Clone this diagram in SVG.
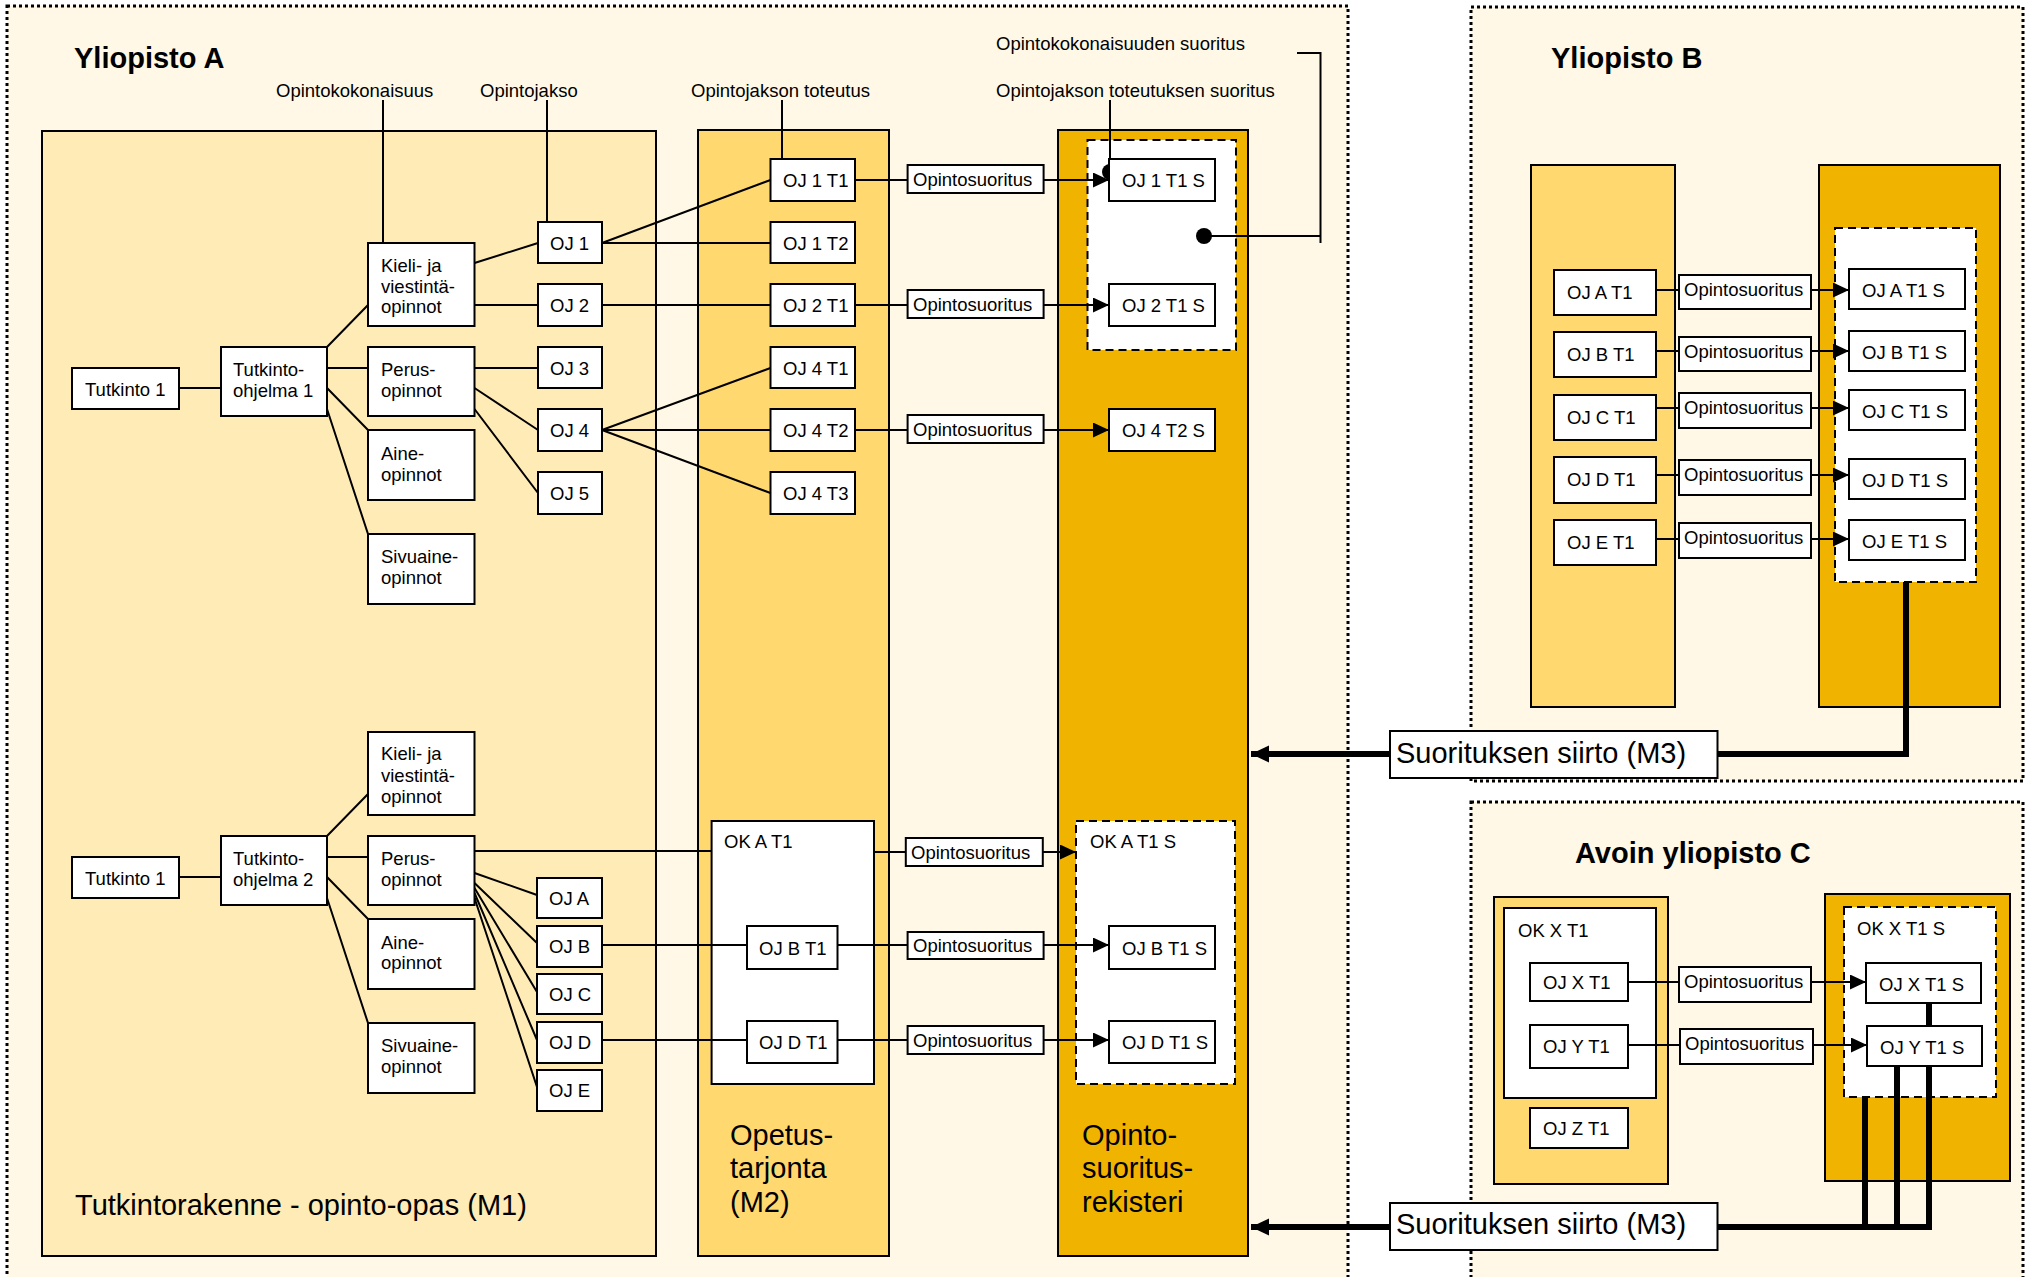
<svg xmlns="http://www.w3.org/2000/svg" width="2033" height="1277" viewBox="0 0 2033 1277">
<style>
.cont{fill:#FFF8E6;stroke:#000;stroke-width:3;stroke-dasharray:3 3}
.m1{fill:#FFEBB5;stroke:#000;stroke-width:2}
.m2{fill:#FFD86F;stroke:#000;stroke-width:2}
.reg{fill:#F0B400;stroke:#000;stroke-width:2}
.box{fill:#fff;stroke:#000;stroke-width:2}
.dash{fill:#fff;stroke:#000;stroke-width:2;stroke-dasharray:8 5}
.ln{stroke:#000;stroke-width:2;fill:none}
.arr{stroke:#000;stroke-width:2;fill:none;marker-end:url(#ah)}
.thick{stroke:#000;stroke-width:6;fill:none}
.tarr{stroke:#000;stroke-width:6;fill:none;marker-end:url(#bh)}
text{font-family:"Liberation Sans",Arial,sans-serif;font-size:18.5px;fill:#000}
.h{font-size:29px;font-weight:bold}
.big{font-size:29px}
</style>
<defs>
<marker id="ah" markerUnits="userSpaceOnUse" markerWidth="17" markerHeight="16" refX="16" refY="7.5" orient="auto"><path d="M0,0 L16,7.5 L0,15 z" fill="#000"/></marker>
<marker id="bh" markerUnits="userSpaceOnUse" markerWidth="19" markerHeight="18" refX="18" refY="8.5" orient="auto"><path d="M0,0 L18,8.5 L0,17 z" fill="#000"/></marker>
</defs>
<rect width="2033" height="1277" fill="#fff"/>

<g id="yliopistoA">
<rect class="cont" x="7" y="6" width="1341" height="1285"/>
<text class="h" x="74" y="68">Yliopisto A</text>
</g>
<g id="yliopistoB">
<rect class="cont" x="1471" y="7" width="552" height="774"/>
<text class="h" x="1551" y="68">Yliopisto B</text>
</g>
<g id="yliopistoC">
<rect class="cont" x="1471" y="802" width="552" height="490"/>
<text class="h" x="1575" y="863">Avoin yliopisto C</text>
</g>

<g id="M1">
<rect class="m1" x="42" y="131" width="614" height="1125"/>
<text class="big" x="75" y="1215">Tutkintorakenne - opinto-opas (M1)</text>
</g>
<g id="M2">
<rect class="m2" x="698" y="130" width="191" height="1126"/>
<text class="big" x="730" y="1145">Opetus-</text>
<text class="big" x="730" y="1178">tarjonta</text>
<text class="big" x="730" y="1212">(M2)</text>
</g>
<g id="rekisteriA">
<rect class="reg" x="1058" y="130" width="190" height="1126"/>
<text class="big" x="1082" y="1145">Opinto-</text>
<text class="big" x="1082" y="1178">suoritus-</text>
<text class="big" x="1082" y="1212">rekisteri</text>
</g>
<g id="OK1S"><rect class="dash" x="1087.5" y="140" width="148.5" height="210"/></g>
<g id="OKAT1"><rect class="box" x="711.6" y="821" width="162.4" height="263"/><text x="724" y="848">OK A T1</text></g>
<g id="OKAT1S"><rect class="dash" x="1076" y="821" width="159" height="263"/><text x="1090" y="848">OK A T1 S</text></g>

<g id="M2B"><rect class="m2" x="1531" y="165" width="144" height="542"/></g>
<g id="rekisteriB"><rect class="reg" x="1819" y="165" width="181" height="542"/></g>
<g id="OKBS"><rect class="dash" x="1835" y="228" width="141" height="354"/></g>

<g id="M2C"><rect class="m2" x="1494" y="897" width="174" height="287"/></g>
<g id="OKXT1"><rect class="box" x="1504" y="908" width="152" height="190"/><text x="1518" y="937">OK X T1</text></g>
<g id="rekisteriC"><rect class="reg" x="1825" y="894" width="185" height="287"/></g>
<g id="OKXT1S"><rect class="dash" x="1844" y="907" width="152" height="190"/><text x="1857" y="935">OK X T1 S</text></g>

<g id="labels">
<text x="276" y="97">Opintokokonaisuus</text>
<text x="480" y="97">Opintojakso</text>
<text x="691" y="97">Opintojakson toteutus</text>
<text x="996" y="50">Opintokokonaisuuden suoritus</text>
<text x="996" y="97">Opintojakson toteutuksen suoritus</text>
</g>

<g id="connectors">
<path class="ln" d="M383,100V255 M547,100V230 M782,100V172 M1110,100V172 M1297,53H1320.5V243 M1320.5,236H1204"/>
<circle cx="383" cy="255" r="8"/><circle cx="547" cy="230" r="8"/><circle cx="782" cy="172" r="8"/><circle cx="1110" cy="172" r="8"/><circle cx="1204" cy="236" r="8"/>
<path class="ln" d="M178.6,388H221 M327,347L368,305 M327,368H368 M327,388L368,430 M327,409L368,534
M474.5,263L538,243 M474.5,305H538 M474.5,368H538 M474.5,388L538,430 M474.5,409L538,493
M602,243L770.5,180 M602,243H770.5 M602,305H770.5 M602,430L770.5,368 M602,430H770.5 M602,430L770.5,493
M855,180H907.6 M855,305H907.6 M855,430H907.6"/>
<path class="arr" d="M1043.6,180H1109"/>
<path class="arr" d="M1043.6,305H1109"/>
<path class="arr" d="M1043.6,430H1109"/>
<path class="ln" d="M178.6,877H221 M327,836L368,794 M327,857H368 M327,877L368,919 M327,898L368,1023
M474.5,851H711.6 M474.5,873L537,895 M474.5,883L537,943 M474.5,888L537,992 M474.5,893L537,1040 M474.5,898L537,1087
M602,945H747 M602,1040H747 M837.5,945H907.6 M837.5,1040H907.6 M874,852H905.8"/>
<path class="arr" d="M1043.6,945H1109"/>
<path class="arr" d="M1043.6,1040H1109"/>
<path class="arr" d="M1042.8,852H1076"/>
<path class="ln" d="M1656,290H1679 M1656,351H1679 M1656,408H1679 M1656,475H1679 M1656,539H1679"/>
<path class="arr" d="M1811,290H1849"/>
<path class="arr" d="M1811,351H1849"/>
<path class="arr" d="M1811,408H1849"/>
<path class="arr" d="M1811,475H1849"/>
<path class="arr" d="M1811,539H1849"/>
<path class="ln" d="M1628,982H1679 M1628,1045H1680"/>
<path class="arr" d="M1811,982H1866"/>
<path class="arr" d="M1813,1045H1867"/>
<path class="thick" d="M1717.5,754H1906V582"/>
<path class="tarr" d="M1390,754H1251"/>
<path class="thick" d="M1717.5,1227H1932 M1865,1098V1227 M1897,1067V1227 M1929,1003V1227"/>
<path class="tarr" d="M1390,1227H1251"/>
</g>

<g id="tutkinto1"><rect class="box" x="72" y="368" width="107" height="41"/><text x="85" y="396">Tutkinto 1</text></g>
<g id="to1"><rect class="box" x="221" y="347" width="106" height="69"/><text x="233" y="376">Tutkinto-</text><text x="233" y="397">ohjelma 1</text></g>
<g id="kieli1"><rect class="box" x="368" y="243" width="106.5" height="83"/><text x="381" y="272">Kieli- ja</text><text x="381" y="293">viestintä-</text><text x="381" y="313">opinnot</text></g>
<g id="perus1"><rect class="box" x="368" y="347" width="106.5" height="69"/><text x="381" y="376">Perus-</text><text x="381" y="397">opinnot</text></g>
<g id="aine1"><rect class="box" x="368" y="430" width="106.5" height="70"/><text x="381" y="460">Aine-</text><text x="381" y="481">opinnot</text></g>
<g id="sivu1"><rect class="box" x="368" y="534" width="106.5" height="70"/><text x="381" y="563">Sivuaine-</text><text x="381" y="584">opinnot</text></g>
<g id="oj1"><rect class="box" x="538" y="222" width="64" height="41"/><text x="550" y="250">OJ 1</text></g>
<g id="oj2"><rect class="box" x="538" y="284" width="64" height="42"/><text x="550" y="312">OJ 2</text></g>
<g id="oj3"><rect class="box" x="538" y="347" width="64" height="41"/><text x="550" y="375">OJ 3</text></g>
<g id="oj4"><rect class="box" x="538" y="409" width="64" height="42"/><text x="550" y="437">OJ 4</text></g>
<g id="oj5"><rect class="box" x="538" y="472" width="64" height="42"/><text x="550" y="500">OJ 5</text></g>
<g id="oj1t1"><rect class="box" x="770.5" y="159" width="84.5" height="42"/><text x="783" y="187">OJ 1 T1</text></g>
<g id="oj1t2"><rect class="box" x="770.5" y="222" width="84.5" height="41"/><text x="783" y="250">OJ 1 T2</text></g>
<g id="oj2t1"><rect class="box" x="770.5" y="284" width="84.5" height="42"/><text x="783" y="312">OJ 2 T1</text></g>
<g id="oj4t1"><rect class="box" x="770.5" y="347" width="84.5" height="41"/><text x="783" y="375">OJ 4 T1</text></g>
<g id="oj4t2"><rect class="box" x="770.5" y="409" width="84.5" height="42"/><text x="783" y="437">OJ 4 T2</text></g>
<g id="oj4t3"><rect class="box" x="770.5" y="472" width="84.5" height="42"/><text x="783" y="500">OJ 4 T3</text></g>
<g id="os1"><rect class="box" x="907.6" y="165" width="136" height="28"/><text x="913" y="186">Opintosuoritus</text></g>
<g id="os2"><rect class="box" x="907.6" y="290" width="136" height="28"/><text x="913" y="311">Opintosuoritus</text></g>
<g id="os3"><rect class="box" x="907.6" y="415" width="136" height="28"/><text x="913" y="436">Opintosuoritus</text></g>
<g id="oj1t1s"><rect class="box" x="1109" y="159" width="106" height="42"/><text x="1122" y="187">OJ 1 T1 S</text></g>
<g id="oj2t1s"><rect class="box" x="1109" y="284" width="106" height="42"/><text x="1122" y="312">OJ 2 T1 S</text></g>
<g id="oj4t2s"><rect class="box" x="1109" y="409" width="106" height="42"/><text x="1122" y="437">OJ 4 T2 S</text></g>

<g id="tutkinto1b"><rect class="box" x="72" y="857" width="107" height="41"/><text x="85" y="885">Tutkinto 1</text></g>
<g id="to2"><rect class="box" x="221" y="836" width="106" height="69"/><text x="233" y="865">Tutkinto-</text><text x="233" y="886">ohjelma 2</text></g>
<g id="kieli2"><rect class="box" x="368" y="732" width="106.5" height="83"/><text x="381" y="760">Kieli- ja</text><text x="381" y="782">viestintä-</text><text x="381" y="803">opinnot</text></g>
<g id="perus2"><rect class="box" x="368" y="836" width="106.5" height="69"/><text x="381" y="865">Perus-</text><text x="381" y="886">opinnot</text></g>
<g id="aine2"><rect class="box" x="368" y="919" width="106.5" height="70"/><text x="381" y="949">Aine-</text><text x="381" y="969">opinnot</text></g>
<g id="sivu2"><rect class="box" x="368" y="1023" width="106.5" height="70"/><text x="381" y="1052">Sivuaine-</text><text x="381" y="1073">opinnot</text></g>
<g id="oja"><rect class="box" x="537" y="878" width="65" height="40"/><text x="549" y="905">OJ A</text></g>
<g id="ojb"><rect class="box" x="537" y="926" width="65" height="41"/><text x="549" y="953">OJ B</text></g>
<g id="ojc"><rect class="box" x="537" y="974" width="65" height="40"/><text x="549" y="1001">OJ C</text></g>
<g id="ojd"><rect class="box" x="537" y="1022" width="65" height="41"/><text x="549" y="1049">OJ D</text></g>
<g id="oje"><rect class="box" x="537" y="1070" width="65" height="41"/><text x="549" y="1097">OJ E</text></g>
<g id="ojbt1"><rect class="box" x="747" y="926" width="90.5" height="43"/><text x="759" y="955">OJ B T1</text></g>
<g id="ojdt1"><rect class="box" x="747" y="1021" width="90.5" height="42"/><text x="759" y="1049">OJ D T1</text></g>
<g id="os4"><rect class="box" x="905.8" y="838" width="137" height="28"/><text x="911" y="859">Opintosuoritus</text></g>
<g id="os5"><rect class="box" x="907.6" y="932" width="136" height="27"/><text x="913" y="952">Opintosuoritus</text></g>
<g id="os6"><rect class="box" x="907.6" y="1026" width="136" height="28"/><text x="913" y="1047">Opintosuoritus</text></g>
<g id="ojbt1s"><rect class="box" x="1109" y="926" width="106" height="43"/><text x="1122" y="955">OJ B T1 S</text></g>
<g id="ojdt1s"><rect class="box" x="1109" y="1021" width="106" height="42"/><text x="1122" y="1049">OJ D T1 S</text></g>

<g id="ojat1"><rect class="box" x="1554" y="270" width="102" height="45"/><text x="1567" y="299">OJ A T1</text></g>
<g id="ojbt1B"><rect class="box" x="1554" y="332" width="102" height="45"/><text x="1567" y="361">OJ B T1</text></g>
<g id="ojct1"><rect class="box" x="1554" y="395" width="102" height="45"/><text x="1567" y="424">OJ C T1</text></g>
<g id="ojdt1B"><rect class="box" x="1554" y="457" width="102" height="46"/><text x="1567" y="486">OJ D T1</text></g>
<g id="ojet1"><rect class="box" x="1554" y="520" width="102" height="45"/><text x="1567" y="549">OJ E T1</text></g>
<g id="osB1"><rect class="box" x="1679" y="275" width="132" height="34"/><text x="1684" y="296">Opintosuoritus</text></g>
<g id="osB2"><rect class="box" x="1679" y="337" width="132" height="34"/><text x="1684" y="358">Opintosuoritus</text></g>
<g id="osB3"><rect class="box" x="1679" y="393" width="132" height="35"/><text x="1684" y="414">Opintosuoritus</text></g>
<g id="osB4"><rect class="box" x="1679" y="460" width="132" height="35"/><text x="1684" y="481">Opintosuoritus</text></g>
<g id="osB5"><rect class="box" x="1679" y="523" width="132" height="35"/><text x="1684" y="544">Opintosuoritus</text></g>
<g id="ojat1s"><rect class="box" x="1849" y="269" width="116" height="40"/><text x="1862" y="297">OJ A T1 S</text></g>
<g id="ojbt1sB"><rect class="box" x="1849" y="331" width="116" height="40"/><text x="1862" y="359">OJ B T1 S</text></g>
<g id="ojct1s"><rect class="box" x="1849" y="390" width="116" height="40"/><text x="1862" y="418">OJ C T1 S</text></g>
<g id="ojdt1sB"><rect class="box" x="1849" y="459" width="116" height="40"/><text x="1862" y="487">OJ D T1 S</text></g>
<g id="ojet1s"><rect class="box" x="1849" y="520" width="116" height="40"/><text x="1862" y="548">OJ E T1 S</text></g>
<g id="siirtoB"><rect class="box" x="1390" y="731" width="327.5" height="47"/><text class="big" x="1396" y="763">Suorituksen siirto (M3)</text></g>

<g id="ojxt1"><rect class="box" x="1530" y="963" width="98" height="38"/><text x="1543" y="989">OJ X T1</text></g>
<g id="ojyt1"><rect class="box" x="1530" y="1025" width="98" height="43"/><text x="1543" y="1053">OJ Y T1</text></g>
<g id="ojzt1"><rect class="box" x="1530" y="1108" width="98" height="40"/><text x="1543" y="1135">OJ Z T1</text></g>
<g id="osC1"><rect class="box" x="1679" y="967" width="132" height="35"/><text x="1684" y="988">Opintosuoritus</text></g>
<g id="osC2"><rect class="box" x="1680" y="1029" width="133" height="35"/><text x="1685" y="1050">Opintosuoritus</text></g>
<g id="ojxt1s"><rect class="box" x="1866" y="963" width="115" height="40"/><text x="1879" y="991">OJ X T1 S</text></g>
<g id="ojyt1s"><rect class="box" x="1867" y="1026" width="115" height="40"/><text x="1880" y="1054">OJ Y T1 S</text></g>
<g id="siirtoC"><rect class="box" x="1390" y="1203" width="327.5" height="47"/><text class="big" x="1396" y="1234">Suorituksen siirto (M3)</text></g>
</svg>
